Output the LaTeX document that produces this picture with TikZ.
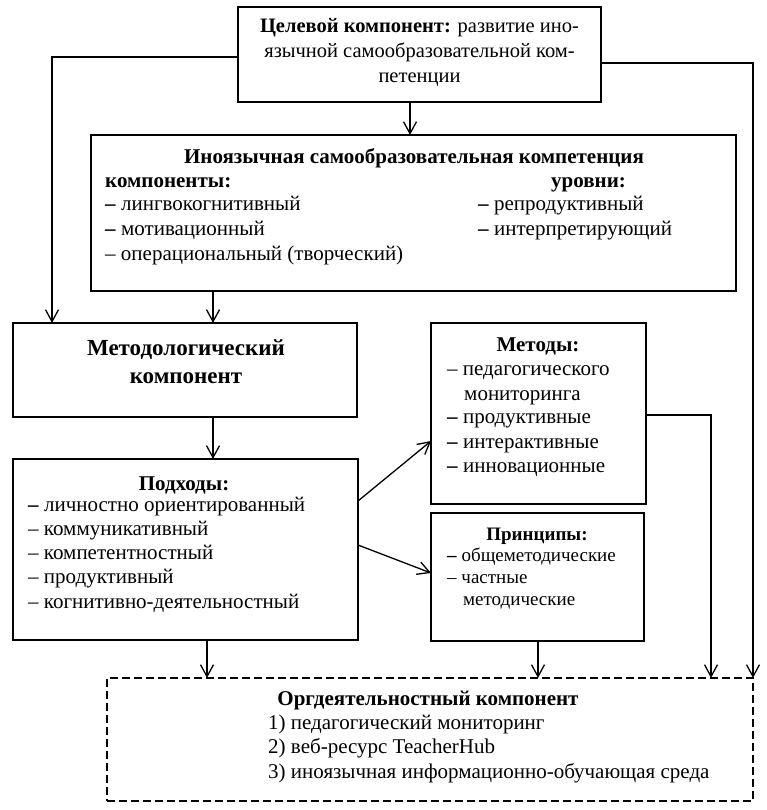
\documentclass[tikz,border=0pt]{standalone}
\usepackage{fontspec}
\setmainfont{Liberation Serif}
\usetikzlibrary{arrows.meta}
\begin{document}
\begin{tikzpicture}[x=1pt,y=-1pt,
  box/.style={draw, line width=2.6pt, inner sep=0pt, outer sep=0pt},
  dbox/.style={box, dash pattern=on 8pt off 4pt},
  arr/.style={line width=1.3pt, -{Straight Barb[length=12pt,width=13pt,line width=1.3pt]}},
  lnk/.style={line width=2.2pt, -{Straight Barb[length=12pt,width=13pt,line width=1.3pt]}},
  tl/.style={anchor=base west, inner sep=0pt, font=\fontsize{21}{24}\selectfont},
  tc/.style={anchor=base, inner sep=0pt, font=\fontsize{21}{24}\selectfont},
  tg/.style={anchor=base, inner sep=0pt, font=\fontsize{20.5}{24}\selectfont},
  ts/.style={anchor=base west, inner sep=0pt, font=\fontsize{19}{22}\selectfont},
  tsc/.style={anchor=base, inner sep=0pt, font=\fontsize{19}{22}\selectfont},
  tbig/.style={anchor=base, inner sep=0pt, font=\fontsize{23}{26}\selectfont\bfseries}
]
\useasboundingbox (0,0) rectangle (767,810);

% boxes
\node[box, minimum width=363pt, minimum height=95pt] (goal) at (419.5,54.5) {};
\node[box, minimum width=645pt, minimum height=156pt] (ino) at (413.5,213) {};
\node[box, minimum width=344pt, minimum height=94pt] (meth) at (185,370) {};
\node[box, minimum width=345pt, minimum height=181pt] (appr) at (185.5,549.5) {};
\node[box, minimum width=215pt, minimum height=181pt] (mtd) at (538.5,413.5) {};
\node[box, minimum width=213pt, minimum height=128pt] (prin) at (537.5,577) {};
\node[dbox, minimum width=646pt, minimum height=123pt] (org) at (430,739.5) {};

% goal text
\node[tg] (g1) at (419.5,33) {\textbf{Целевой компонент:} развитие ино-};
\node[tg] (g2) at (419.5,58) {язычной самообразовательной ком-};
\node[tg] (g3) at (419.5,83) {петенции};

% ino text
\node[tc] (i0) at (414,164) {\textbf{Иноязычная самообразовательная компетенция}};
\node[tl] (i1) at (105,188) {\textbf{компоненты:}};
\node[tl] (i2) at (551,188) {\textbf{уровни:}};
\node[tl] (i3) at (105,211) {\textbf{–} лингвокогнитивный};
\node[tl] (i4) at (105,235) {\textbf{–} мотивационный};
\node[tl] (i5) at (105,260) {– операциональный (творческий)};
\node[tl] (i6) at (478,211) {\textbf{–} репродуктивный};
\node[tl] (i7) at (478,235) {\textbf{–} интерпретирующий};

% meth text
\node[tbig] (m1) at (186,355) {Методологический};
\node[tbig] (m2) at (186,383) {компонент};

% approaches
\node[tc] (a0) at (184,490) {\textbf{Подходы:}};
\node[tl] (a1) at (28,511) {\textbf{–} личностно ориентированный};
\node[tl] (a2) at (28,535) {– коммуникативный};
\node[tl] (a3) at (28,559) {– компетентностный};
\node[tl] (a4) at (28,583) {– продуктивный};
\node[tl] (a5) at (28,608) {– когнитивно-деятельностный};

% methods
\node[tc] (d0) at (538,351) {\textbf{Методы:}};
\node[tl] (d1) at (447,375) {– педагогического};
\node[tl] (d2) at (464,400) {мониторинга};
\node[tl] (d3) at (447,423) {\textbf{–} продуктивные};
\node[tl] (d4) at (447,448) {\textbf{–} интерактивные};
\node[tl] (d5) at (447,472) {\textbf{–} инновационные};

% principles
\node[tsc] (p0) at (537,540) {\textbf{Принципы:}};
\node[ts] (p1) at (447,561) {\textbf{–} общеметодические};
\node[ts] (p2) at (447,583) {– частные};
\node[ts] (p3) at (463,605) {методические};

% org
\node[tc] (o0) at (428,705) {\textbf{Оргдеятельностный компонент}};
\node[tl] (o1) at (268,729) {1) педагогический мониторинг};
\node[tl] (o2) at (268,753) {2) веб-ресурс TeacherHub};
\node[tl] (o3) at (268,778) {3) иноязычная информационно-обучающая среда};

% connectors
\draw[arr] ([xshift=-9.5pt]goal.south) -- ([xshift=-3.5pt]ino.north);
\draw[lnk] ([yshift=-2.5pt]goal.west) -| ([xshift=-133pt]meth.north);
\draw[lnk] ([yshift=-8.5pt]goal.east) -| ([xshift=323pt]org.north);
\draw[arr] ([xshift=-200.5pt]ino.south) -- ([xshift=28pt]meth.north);
\draw[arr] ([xshift=28pt]meth.south) -- ([xshift=27.5pt]appr.north);
\draw[arr] ([yshift=48.5pt]appr.east) -- ([yshift=-27.5pt]mtd.west);
\draw[arr] ([yshift=4.5pt]appr.east) -- ([yshift=4pt]prin.west);
\draw[lnk] ([yshift=-1.5pt]mtd.east) -| ([xshift=281pt]org.north);
\draw[arr] ([xshift=21.5pt]appr.south) -- ([xshift=-223pt]org.north);
\draw[arr] ([xshift=0.5pt]prin.south) -- ([xshift=108pt]org.north);
\end{tikzpicture}
\end{document}
